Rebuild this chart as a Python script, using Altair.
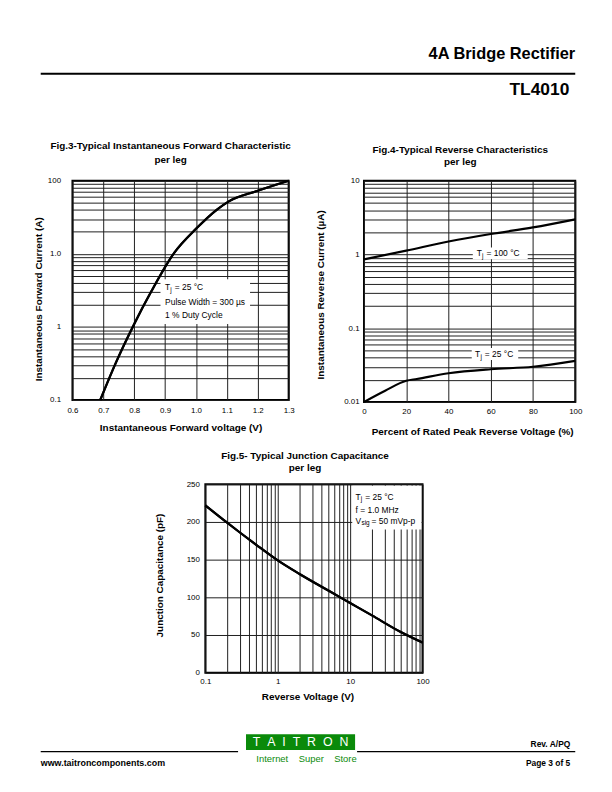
import altair as alt
import pandas as pd

FONT = "Liberation Sans"
NB = "\u00a0"
GRID = "#1e1e1e"

# ---------------- page texts ----------------
header_title = "4A Bridge Rectifier"
header_part = "TL4010"
footer_url = "www.taitroncomponents.com"
footer_rev = "Rev. A/PQ"
footer_page = "Page 3 of 5"
logo_letters = ["T", "A", "I", "T", "R", "O", "N"]
logo_words = ["Internet", "Super", "Store"]

# ---------------- Fig.3 ----------------
fig3_title = ["Fig.3-Typical Instantaneous Forward Characteristic", "per leg" + NB * 8]
fig3_x_title = "Instantaneous Forward voltage (V)"
fig3_y_title = "Instantaneous Forward Current (A)"
fig3_voltage = [0.69, 0.74, 0.80, 0.855, 0.93, 1.00, 1.07, 1.105, 1.20, 1.30]
fig3_current = [0.10, 0.32, 1.10, 3.05, 10.4, 22.0, 41.0, 52.0, 73.0, 100.0]
fig3_x_ticks = [0.6, 0.7, 0.8, 0.9, 1.0, 1.1, 1.2, 1.3]
fig3_y_decades = [0.1, 1, 10, 100]
fig3_y_labels = ["0.1", "1", "1.0", "100"]
fig3_note_lines = ["Pulse Width = 300 µs", "1 % Duty Cycle"]

# ---------------- Fig.4 ----------------
fig4_title = ["Fig.4-Typical Reverse Characteristics", "per leg"]
fig4_x_title = "Percent of Rated Peak Reverse Voltage (%)"
fig4_y_title = "Instantaneous Reverse Current (µA)"
fig4_pct_100 = [0, 20, 40, 60, 80, 100]
fig4_cur_100 = [0.86, 1.13, 1.50, 1.90, 2.33, 3.00]
fig4_pct_25 = [0, 10, 20, 25, 40, 60, 80, 100]
fig4_cur_25 = [0.0100, 0.0142, 0.0194, 0.0205, 0.0245, 0.0278, 0.0300, 0.0360]
fig4_x_ticks = [0, 20, 40, 60, 80, 100]
fig4_y_decades = [0.01, 0.1, 1, 10]
fig4_y_labels = ["0.01", "0.1", "1", "10"]

# ---------------- Fig.5 ----------------
fig5_title = ["Fig.5- Typical Junction Capacitance", NB * 6 + "per leg"]
fig5_x_title = "Reverse Voltage (V)"
fig5_y_title = "Junction Capacitance (pF)"
fig5_voltage = [0.1, 0.2, 0.3, 0.5, 1, 2, 5, 10, 20, 50, 100]
fig5_cap = [222, 199, 186, 170, 149, 131, 109, 92.5, 76, 54, 40]
fig5_x_decades = [0.1, 1, 10, 100]
fig5_x_labels = ["0.1", "1", "10", "100"]
fig5_y_ticks = [0, 50, 100, 150, 200, 250]

dummy = pd.DataFrame({"k": [0]})


def log_grid(lo_exp, hi_exp):
    vals = []
    for e in range(lo_exp, hi_exp):
        for m in range(1, 10):
            vals.append(m * 10 ** e)
    vals.append(10 ** hi_exp)
    return vals


def label_expr(values, labels):
    s = ""
    for v, t in zip(values, labels):
        s += f"abs(datum.value / {v!r} - 1) < 1e-6 ? '{t}' : "
    return s + "''"


def axis(title, values, tx, ty, pad, angle=0, expr=None, fmt=None):
    kw = dict(
        title=title, values=values, tickCount=len(values) + 1,
        grid=True, gridColor=GRID, gridWidth=1,
        gridOpacity=1, ticks=False, domain=False, labelPadding=pad,
        labelFontSize=8, labelFont=FONT, labelColor="black", labelFlush=False,
        labelOverlap=False, titleX=tx, titleY=ty, titleBaseline="middle",
        titleAlign="center", titleAngle=angle, titleFontSize=10,
        titleFontWeight="bold", titleFont=FONT, titleColor="black",
    )
    if expr is not None:
        kw["labelExpr"] = expr
    if fmt is not None:
        kw["format"] = fmt
    return alt.Axis(**kw)


def note(x, y, text, dx=0, dy=0, size=8.5):
    return alt.Chart(dummy).mark_text(
        text=text, align="left", baseline="middle", fontSize=size, font=FONT,
        color="black", dx=dx, dy=dy,
    ).encode(x=alt.datum(x), y=alt.datum(y))


def sub_note(x, y, base, sub, rest, sub_dx, rest_dx, dy=0):
    return [
        note(x, y, base, 0, dy),
        note(x, y, sub, sub_dx, dy + 2.8, 6.5),
        note(x, y, rest, rest_dx, dy),
    ]


def white_box(x1, x2, y1, y2):
    return alt.Chart(dummy).mark_rect(color="white").encode(
        x=alt.datum(x1), x2=alt.datum(x2), y=alt.datum(y1), y2=alt.datum(y2)
    )


def frame():
    return alt.ViewBackground(stroke="black", strokeWidth=2)


def curve(df, xf, yf):
    return alt.Chart(df).mark_line(color="black", strokeWidth=2.2, interpolate="monotone").encode(
        x=xf, y=yf)


# ---------------- Fig.3 chart ----------------
df3 = pd.DataFrame({"v": fig3_voltage, "i": fig3_current})
curve3 = curve(
    df3,
    alt.X("v:Q", scale=alt.Scale(domain=[0.6, 1.3], nice=False, zero=False),
          axis=axis(fig3_x_title, fig3_x_ticks, 109, 28, 7, fmt=".1f")),
    alt.Y("i:Q", scale=alt.Scale(type="log", domain=[0.1, 100], nice=False),
          axis=axis(fig3_y_title, log_grid(-1, 2), -34, 119, 12, angle=270,
                    expr=label_expr(fig3_y_decades, fig3_y_labels))),
)
fig3 = alt.layer(
    curve3,
    white_box(0.885, 1.175, 1.1, 4.5),
    *sub_note(0.9, 3.53, "T", "j", "= 25 °C", 5.3, 9.8),
    note(0.9, 3.53, fig3_note_lines[0], 0, 15),
    note(0.9, 3.53, fig3_note_lines[1], 0, 28.3),
    curve(df3, "v:Q", "i:Q"),
).properties(
    width=218, height=221, view=frame(),
    title=alt.TitleParams(text=fig3_title, offset=12, dx=-10, anchor="middle", lineHeight=14),
)

# ---------------- Fig.4 chart ----------------
df4a = pd.DataFrame({"p": fig4_pct_100, "c": fig4_cur_100})
df4b = pd.DataFrame({"p": fig4_pct_25, "c": fig4_cur_25})
curve4a = curve(
    df4a,
    alt.X("p:Q", scale=alt.Scale(domain=[0, 100], nice=False),
          axis=axis(fig4_x_title, fig4_x_ticks, 109, 30, 6)),
    alt.Y("c:Q", scale=alt.Scale(type="log", domain=[0.01, 10], nice=False),
          axis=axis(fig4_y_title, log_grid(-2, 1), -44, 114.5, 5, angle=270,
                    expr=label_expr(fig4_y_decades, fig4_y_labels))),
)
fig4 = alt.layer(
    curve4a,
    white_box(51.5, 77.5, 0.86, 1.25),
    white_box(51.0, 73.0, 0.037, 0.054),
    *sub_note(53.4, 1.035, "T", "j", "= 100 °C", 5.3, 9.8),
    *sub_note(52.6, 0.0448, "T", "j", "= 25 °C", 5.3, 9.8),
    curve(df4b, "p:Q", "c:Q"),
).properties(
    width=213, height=223, view=frame(),
    title=alt.TitleParams(text=fig4_title, offset=9.5, dx=-9.5, anchor="middle", lineHeight=12.5),
)

# ---------------- Fig.5 chart ----------------
df5 = pd.DataFrame({"v": fig5_voltage, "c": fig5_cap})
curve5 = curve(
    df5,
    alt.X("v:Q", scale=alt.Scale(type="log", domain=[0.1, 100], nice=False),
          axis=axis(fig5_x_title, log_grid(-1, 2), 103, 24, 5,
                    expr=label_expr(fig5_x_decades, fig5_x_labels))),
    alt.Y("c:Q", scale=alt.Scale(domain=[0, 250], nice=False),
          axis=axis(fig5_y_title, fig5_y_ticks, -46.5, 91.5, 6, angle=270)),
)
fig5 = alt.layer(
    curve5,
    white_box(10.7, 96.5, 190, 248),
    *sub_note(11.9, 233.7, "T", "j", "= 25 °C", 5.3, 9.8),
    note(11.9, 233.7, "f = 1.0 MHz", 0, 13.3),
    *sub_note(11.9, 233.7, "V", "sig", "= 50 mVp-p", 5.9, 16, dy=24.3),
    curve(df5, "v:Q", "c:Q"),
).properties(
    width=219, height=190, view=frame(),
    title=alt.TitleParams(text=fig5_title, offset=7, dx=-9, anchor="middle", lineHeight=12),
)


# ---------------- page decoration panels ----------------
def page_text(s, x, y, size, weight="normal", align="left", color="black", baseline="middle"):
    return alt.Chart(dummy).mark_text(
        text=s, fontSize=size, fontWeight=weight, align=align, baseline=baseline,
        color=color, font=FONT,
    ).encode(x=alt.value(x), y=alt.value(y))


def page_rule(x1, x2, y, w):
    return alt.Chart(dummy).mark_rule(color="black", strokeWidth=w).encode(
        x=alt.value(x1), x2=alt.value(x2), y=alt.value(y))


def spacer(w, h):
    return alt.Chart(dummy).mark_point(opacity=0).encode(
        x=alt.value(0), y=alt.value(0)).properties(width=w, height=h)


header = alt.layer(
    page_text(header_title, 568, 42, 16.5, "bold", "right"),
    page_rule(29, 568, 62, 2),
    page_text(header_part, 562, 78, 17.5, "bold", "right"),
).properties(width=596, height=170)

logo = (NB * 2).join(logo_letters)
words = (NB * 4).join(logo_words)
footer = alt.layer(
    page_rule(29, 228, 269.5, 1.3),
    page_rule(348, 568, 269.5, 1.3),
    alt.Chart(dummy).mark_rect(color="#0a8a0a").encode(
        x=alt.value(236), x2=alt.value(346), y=alt.value(252), y2=alt.value(268)),
    page_text(logo, 291, 260, 12.5, "normal", "center", "white"),
    page_text(words, 297, 277, 9.5, "normal", "center", "#0a8a0a"),
    page_text(footer_rev, 563, 262, 8.5, "bold", "right"),
    page_text(footer_url, 29, 281, 9, "bold", "left"),
    page_text(footer_page, 563, 281, 8.5, "bold", "right"),
).properties(width=596, height=300)

row_top = alt.hconcat(spacer(61, 10), fig3, spacer(76, 10), fig4, spacing=0, bounds="flush")
row_mid = alt.hconcat(spacer(195, 10), fig5, spacing=0, bounds="flush")

chart = alt.vconcat(
    header, row_top, spacer(10, 306), row_mid, footer, spacing=0, bounds="flush"
).properties(padding=0).configure(font=FONT).configure_view(
    stroke="transparent"
).configure_title(font=FONT, fontSize=10, fontWeight="bold", color="black")

chart.save("out.html", embed_options={"renderer": "svg", "actions": False})
